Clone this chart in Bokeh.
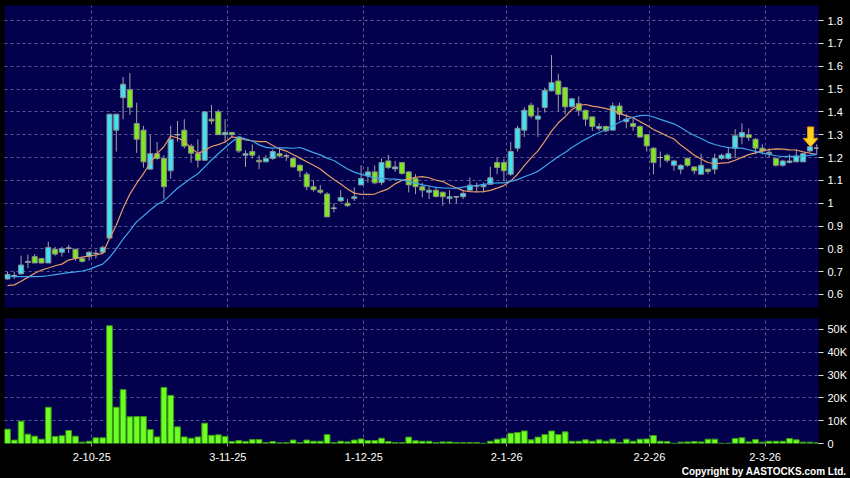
import numpy as np
from bokeh.plotting import figure
from bokeh.layouts import column
from bokeh.models import (ColumnDataSource, FixedTicker, CustomJSTickFormatter,
                          Range1d, Title)
from bokeh.embed import file_html
from bokeh.resources import INLINE

# ---------------- data ----------------
opens = [0.668, 0.683, 0.69, 0.74, 0.766, 0.758, 0.738, 0.798, 0.785, 0.803,
         0.798, 0.758, 0.767, 0.78, 0.785, 0.847, 1.32, 1.462, 1.497, 1.349,
         1.32, 1.149, 1.217, 1.196, 1.142, 1.30, 1.32, 1.25, 1.217, 1.188,
         1.368, 1.40, 1.30, 1.31, 1.29, 1.21, 1.226, 1.188, 1.181, 1.196,
         1.217, 1.207, 1.196, 1.166, 1.127, 1.072, 1.057, 1.04, 0.978, 1.01,
         1.0, 1.02, 1.08, 1.12, 1.137, 1.09, 1.185, 1.15, 1.178, 1.137,
         1.108, 1.072, 1.048, 1.057, 1.048, 1.02, 1.028, 1.028, 1.057, 1.076,
         1.072, 1.083, 1.178, 1.178, 1.127, 1.241, 1.32, 1.429, 1.368, 1.419,
         1.492, 1.535, 1.506, 1.422, 1.436, 1.407, 1.378, 1.327, 1.336, 1.32,
         1.426, 1.357, 1.349, 1.336, 1.30, 1.241, 1.20, 1.21, 1.166, 1.149,
         1.196, 1.159, 1.127, 1.149, 1.149, 1.196, 1.196, 1.241, 1.29, 1.30,
         1.28, 1.241, 1.217, 1.196, 1.166, 1.178, 1.181, 1.181, 1.229, 1.241]
highs = [0.70, 0.70, 0.77, 0.775, 0.777, 0.76, 0.831, 0.809, 0.809, 0.817,
         0.80, 0.76, 0.789, 0.796, 0.814, 1.39, 1.39, 1.553, 1.57, 1.44,
         1.339, 1.30, 1.268, 1.21, 1.339, 1.36, 1.368, 1.26, 1.28, 1.40,
         1.43, 1.41, 1.368, 1.31, 1.29, 1.232, 1.258, 1.21, 1.21, 1.235,
         1.244, 1.217, 1.20, 1.17, 1.137, 1.10, 1.08, 1.048, 0.999, 1.057,
         1.018, 1.069, 1.166, 1.159, 1.166, 1.196, 1.212, 1.185, 1.18, 1.14,
         1.127, 1.09, 1.076, 1.072, 1.05, 1.057, 1.03, 1.057, 1.113, 1.09,
         1.09, 1.159, 1.20, 1.193, 1.268, 1.339, 1.42, 1.44, 1.42, 1.506,
         1.649, 1.567, 1.51, 1.46, 1.468, 1.41, 1.38, 1.35, 1.34, 1.44,
         1.44, 1.39, 1.378, 1.34, 1.30, 1.245, 1.226, 1.217, 1.19, 1.17,
         1.20, 1.16, 1.217, 1.15, 1.217, 1.217, 1.247, 1.324, 1.35, 1.327,
         1.285, 1.258, 1.24, 1.20, 1.19, 1.214, 1.236, 1.22, 1.25, 1.258]
lows = [0.665, 0.668, 0.69, 0.715, 0.738, 0.735, 0.738, 0.77, 0.766, 0.782,
        0.748, 0.74, 0.748, 0.758, 0.78, 0.847, 1.226, 1.368, 1.387, 1.22,
        1.156, 1.149, 1.19, 1.018, 1.108, 1.27, 1.24, 1.178, 1.156, 1.188,
        1.346, 1.30, 1.266, 1.29, 1.22, 1.159, 1.196, 1.149, 1.18, 1.19,
        1.20, 1.185, 1.155, 1.113, 1.057, 1.051, 1.04, 0.94, 0.96, 1.005,
        0.984, 1.01, 1.08, 1.09, 1.083, 1.08, 1.15, 1.137, 1.125, 1.047,
        1.04, 1.025, 1.018, 1.025, 0.989, 0.999, 0.999, 1.018, 1.05, 1.047,
        1.047, 1.08, 1.127, 1.098, 1.12, 1.226, 1.29, 1.372, 1.29, 1.397,
        1.49, 1.404, 1.39, 1.42, 1.382, 1.339, 1.317, 1.317, 1.31, 1.32,
        1.363, 1.328, 1.317, 1.285, 1.226, 1.127, 1.156, 1.178, 1.142, 1.127,
        1.16, 1.127, 1.127, 1.127, 1.127, 1.19, 1.19, 1.196, 1.258, 1.273,
        1.214, 1.214, 1.20, 1.16, 1.16, 1.175, 1.18, 1.18, 1.22, 1.217]
closes = [0.688, 0.683, 0.729, 0.745, 0.738, 0.738, 0.806, 0.777, 0.80, 0.803,
          0.758, 0.745, 0.785, 0.78, 0.806, 1.39, 1.39, 1.521, 1.42, 1.28,
          1.181, 1.217, 1.196, 1.072, 1.28, 1.30, 1.25, 1.219, 1.188, 1.40,
          1.36, 1.30, 1.31, 1.30, 1.229, 1.217, 1.21, 1.181, 1.196, 1.226,
          1.207, 1.207, 1.159, 1.142, 1.072, 1.059, 1.048, 0.94, 0.978, 1.025,
          0.989, 1.028, 1.108, 1.137, 1.089, 1.178, 1.156, 1.159, 1.13, 1.08,
          1.072, 1.057, 1.057, 1.029, 1.028, 1.028, 1.028, 1.043, 1.079, 1.076,
          1.08, 1.111, 1.156, 1.142, 1.226, 1.328, 1.407, 1.382, 1.382, 1.494,
          1.528, 1.477, 1.422, 1.457, 1.407, 1.368, 1.336, 1.336, 1.317, 1.426,
          1.39, 1.368, 1.336, 1.29, 1.251, 1.178, 1.20, 1.188, 1.185, 1.166,
          1.166, 1.142, 1.166, 1.139, 1.196, 1.21, 1.217, 1.295, 1.31, 1.288,
          1.241, 1.229, 1.223, 1.166, 1.185, 1.185, 1.207, 1.217, 1.247, 1.241]
volumes_k = [6.3, 1.5, 9.8, 4.1, 3.2, 1.9, 15.9, 3.1, 3.4, 5.7,
             3.2, 0.6, 1.0, 2.5, 2.5, 51.6, 15.9, 23.6, 11.7, 11.8,
             11.8, 6.1, 2.9, 24.6, 21.1, 7.3, 2.9, 2.3, 2.9, 8.9,
             3.6, 3.8, 3.1, 0.9, 1.3, 0.9, 1.7, 1.7, 0.4, 0.9,
             0.3, 0.4, 1.5, 0.4, 1.5, 1.0, 1.0, 3.9, 0.4, 1.0,
             0.7, 1.5, 2.0, 1.3, 1.3, 2.3, 0.9, 0.4, 0.4, 2.8,
             1.2, 1.0, 1.0, 0.4, 0.7, 0.7, 0.4, 0.4, 0.4, 0.4,
             0.1, 1.0, 1.9, 2.3, 4.5, 4.8, 5.5, 1.6, 2.8, 3.9,
             5.5, 3.9, 5.1, 1.0, 1.0, 1.6, 1.0, 1.6, 1.0, 1.9,
             0.4, 1.9, 1.0, 1.9, 2.0, 3.5, 1.0, 0.9, 0.1, 0.6,
             0.7, 0.9, 0.7, 1.9, 1.9, 0.1, 0.1, 2.2, 2.5, 0.7,
             1.7, 0.6, 1.0, 1.0, 1.0, 2.2, 1.6, 0.6, 0.6, 0.3]
# moving averages before a full window exists
ma10_head = [0.639, 0.642, 0.658, 0.675, 0.693, 0.707, 0.716, 0.726, 0.733]
ma20_head = [0.680, 0.678, 0.678, 0.678, 0.678, 0.679, 0.682, 0.687, 0.691, 0.696,
             0.699, 0.703, 0.710, 0.722, 0.733, 0.762, 0.800, 0.843, 0.880]
date_idx = [12, 32, 52, 73, 94, 111]
date_labels = ["2-10-25", "3-11-25", "1-12-25", "2-1-26", "2-2-26", "2-3-26"]
price_ticks = [0.6, 0.7, 0.8, 0.9, 1.0, 1.1, 1.2, 1.3, 1.4, 1.5, 1.6, 1.7, 1.8]
vol_ticks = [0, 10, 20, 30, 40, 50]
copyright_text = "Copyright by AASTOCKS.com Ltd."

# ---------------- derived ----------------
n = len(closes)
x = np.arange(n)
o = np.array(opens); c = np.array(closes)
h = np.array(highs); l = np.array(lows)


def sma(vals, w, head):
    out = list(head)
    for i in range(len(head), len(vals)):
        out.append(float(np.mean(vals[i - w + 1:i + 1])))
    return out


ma10 = sma(c, 10, ma10_head)
ma20 = sma(c, 20, ma20_head)

UP = "#3EE2F2"
DOWN = "#7EE81E"
colors = [UP if cc > oo else (DOWN if cc < oo else "#9A9A9A") for oo, cc in zip(o, c)]
src = ColumnDataSource(dict(x=x, open=o, close=c, high=h, low=l,
                            top=np.maximum(o, c), bottom=np.minimum(o, c),
                            color=colors, vol=volumes_k))
doji = o == c
doji_src = ColumnDataSource(dict(x0=x[doji] - 0.38, x1=x[doji] + 0.38, y=c[doji]))

xt = [d + 0.4 for d in date_idx]

BG = "#03004E"
GRID = "#5A5A90"
FONT = "Liberation Sans"
xr = Range1d(-0.44, 119.26)

# ---------------- price panel ----------------
p1 = figure(width=850, height=312, x_range=xr, y_range=Range1d(0.543, 1.866),
            output_backend="svg", toolbar_location=None,
            y_axis_location="right",
            min_border_left=4, min_border_right=32, min_border_top=5, min_border_bottom=5,
            background_fill_color=BG, border_fill_color="black", outline_line_color=None)
p1.xaxis.visible = False
p1.xaxis.ticker = FixedTicker(ticks=xt)
p1.xgrid.ticker = FixedTicker(ticks=xt)
p1.yaxis.ticker = FixedTicker(ticks=price_ticks)
p1.yaxis.formatter = CustomJSTickFormatter(code="return tick.toFixed(1).replace(/\\.0$/, '');")
for g in (p1.xgrid, p1.ygrid):
    g.grid_line_color = GRID
    g.grid_line_dash = "3 3"
    g.grid_line_width = 1

p1.segment(x0="x", y0="low", x1="x", y1="high", source=src, line_color="#A0A0A0", line_width=1)
p1.vbar(x="x", width=0.74, top="top", bottom="bottom", source=src,
        fill_color="color", line_color="#8C8C8C", line_width=1)
p1.segment(x0="x0", y0="y", x1="x1", y1="y", source=doji_src, line_color="#B0B0B0", line_width=1)
p1.line(x, ma10, line_color="#E59A68", line_width=1.2)
p1.line(x, ma20, line_color="#3FA6E8", line_width=1.2)

# marker arrow above the latest candles
ax = n - 2 + 0.1
tip = closes[n - 2]
base = tip + 0.037
topy = tip + 0.087
p1.patch([ax - 0.45, ax + 0.45, ax + 0.45, ax + 1.1, ax, ax - 1.1, ax - 0.45],
         [topy, topy, base, base, tip, base, base],
         fill_color="#FFD21F", line_color="#E09A00", line_width=1)

# ---------------- volume panel ----------------
p2 = figure(width=850, height=166, x_range=xr, y_range=Range1d(0, 54.8),
            output_backend="svg", toolbar_location=None,
            y_axis_location="right",
            min_border_left=4, min_border_right=32, min_border_top=6, min_border_bottom=35,
            background_fill_color=BG, border_fill_color="black", outline_line_color=None)
p2.vbar(x="x", width=0.84, top="vol", bottom=0, source=src,
        fill_color="#6CFF22", line_color="#3C9A14", line_width=1)
p2.xaxis.ticker = FixedTicker(ticks=xt)
p2.xgrid.ticker = FixedTicker(ticks=xt)
p2.xaxis.formatter = CustomJSTickFormatter(
    args=dict(tpos=xt, tlabels=date_labels),
    code="for (let k = 0; k < tpos.length; k++) { if (Math.abs(tpos[k] - tick) < 0.01) return tlabels[k]; } return '';")
p2.yaxis.ticker = FixedTicker(ticks=vol_ticks)
p2.yaxis.formatter = CustomJSTickFormatter(code="return tick == 0 ? '0' : tick + 'K';")
for g in (p2.xgrid, p2.ygrid):
    g.grid_line_color = GRID
    g.grid_line_dash = "3 3"
    g.grid_line_width = 1

for p in (p1, p2):
    for axis in (p.yaxis, p.xaxis):
        axis.axis_line_color = None
        axis.minor_tick_line_color = None
        axis.major_tick_in = 0
        axis.major_label_text_color = "white"
        axis.major_label_text_font = FONT
        axis.major_label_text_font_size = "11px"
    p.yaxis.major_tick_out = 5
    p.yaxis.major_tick_line_color = "#DDDDDD"
    p.yaxis.major_label_standoff = 4
p2.xaxis.major_tick_out = 3
p2.xaxis.major_tick_line_color = "#9A9A9A"
p2.xaxis.major_label_standoff = 6

p2.add_layout(Title(text=copyright_text, align="right", text_color="white",
                    text_font=FONT, text_font_size="10px", text_font_style="bold",
                    standoff=0, offset=-28), "below")

layout = column(p1, p2, spacing=0, background="black")
open("out.html", "w").write(file_html(layout, INLINE))
